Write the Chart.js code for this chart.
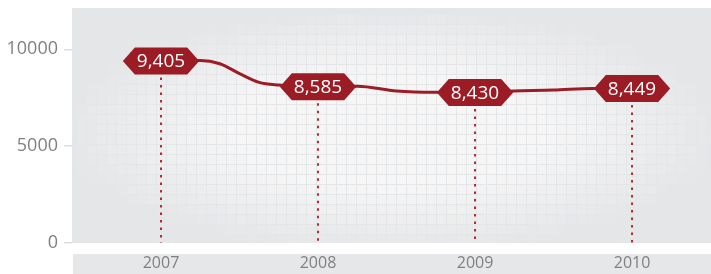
<!DOCTYPE html>
<html>
<head>
<meta charset="utf-8">
<script src="https://cdn.jsdelivr.net/npm/chart.js@4.4.0/dist/chart.umd.min.js"></script>
<style>
  body { margin: 0; background: #fff; }
  #wrap { width: 711px; height: 274px; }
</style>
</head>
<body>
<div id="wrap"><canvas id="chart"></canvas></div>
<script>
// line
const lineYears = [2007, 2007.25, 2007.375, 2007.5, 2007.625, 2007.75, 2007.875, 2008, 2008.25, 2008.5, 2008.75, 2009, 2009.25, 2009.5, 2009.75, 2010];
const lineValues = [9400, 9420, 9250, 8742, 8290, 8150, 8100, 8060, 8093, 7850, 7778, 7773, 7851, 7892, 7979, 7979];

// tagged values shown in the red badges
const labelYears = [2007, 2008, 2009, 2010];
const labelValues = [9405, 8585, 8430, 8449];

const yTicks = [0, 5000, 10000];

const RED = '#9b1c25';

const backgroundPlugin = {
  id: 'bgGrid',
  beforeDraw(chart) {
    const ctx = chart.ctx;
    const a = chart.chartArea;
    ctx.save();
    // plot panel
    ctx.fillStyle = '#e5e6e8';
    ctx.fillRect(a.left, a.top, a.right - a.left, a.bottom - a.top);
    const cx = (a.left + a.right) / 2, cy = (a.top + a.bottom) / 2 + 5;
    const rx = (a.right - a.left) / 2, ry = (a.bottom - a.top) / 2;
    ctx.fillStyle = '#f6f6f7';
    for (let x = a.left + 5; x < a.right; x += 10) {
      for (let y = a.top + 7; y < a.bottom; y += 10) {
        const dx = (x + 4.5 - cx) / rx, dy = (y + 4.5 - cy) / ry;
        const d = Math.sqrt(dx * dx + dy * dy);
        const alpha = Math.max(0, Math.min(1, (1.05 - d) * 1.7));
        if (alpha <= 0) continue;
        ctx.globalAlpha = alpha;
        ctx.fillRect(x, y, Math.min(9, a.right - x), Math.min(9, a.bottom - y));
      }
    }
    ctx.globalAlpha = 1;
    // band behind the year labels
    ctx.fillStyle = '#e6e7e9';
    ctx.fillRect(a.left + 1, a.bottom + 11, a.right - a.left, chart.height - a.bottom - 11);
    ctx.restore();
  }
};

const badgePlugin = {
  id: 'badges',
  afterDatasetsDraw(chart) {
    const ctx = chart.ctx;
    const xs = chart.scales.x, ys = chart.scales.y;
    const a = chart.chartArea;
    ctx.save();
    ctx.font = '19px "Open Sans"';
    labelYears.forEach((yr, i) => {
      const idx = lineYears.indexOf(yr);
      const px = xs.getPixelForValue(yr);
      const py = ys.getPixelForValue(lineValues[idx]);
      const halfH = 13.5;
      // dotted drop line
      ctx.strokeStyle = '#b22a35';
      ctx.lineWidth = 2;
      ctx.setLineDash([2.5, 5]);
      ctx.beginPath();
      ctx.moveTo(px, py + halfH + 3);
      ctx.lineTo(px, a.bottom);
      ctx.stroke();
      ctx.setLineDash([]);
      // hexagon badge
      const text = labelValues[i].toLocaleString('en-US');
      const tw = ctx.measureText(text).width;
      const half = tw / 2 + 2;
      const tip = 12;
      ctx.fillStyle = RED;
      ctx.beginPath();
      ctx.moveTo(px - half - tip, py);
      ctx.lineTo(px - half, py - halfH);
      ctx.lineTo(px + half, py - halfH);
      ctx.lineTo(px + half + tip, py);
      ctx.lineTo(px + half, py + halfH);
      ctx.lineTo(px - half, py + halfH);
      ctx.closePath();
      ctx.fill();
      ctx.fillStyle = '#ffffff';
      ctx.textAlign = 'center';
      ctx.textBaseline = 'middle';
      ctx.fillText(text, px, py + 1);
    });
    ctx.restore();
  }
};

new Chart(document.getElementById('chart'), {
  type: 'line',
  data: {
    datasets: [{
      data: lineYears.map((x, i) => ({ x: x, y: lineValues[i] })),
      borderColor: RED,
      borderWidth: 3,
      pointRadius: 0,
      fill: false,
      cubicInterpolationMode: 'monotone'
    }]
  },
  options: {
    responsive: true,
    maintainAspectRatio: false,
    animation: false,
    layout: { padding: { top: 8, right: 0, left: 0, bottom: 0 } },
    plugins: {
      legend: { display: false },
      tooltip: { enabled: false }
    },
    scales: {
      x: {
        type: 'linear',
        min: 2006.433,
        max: 2010.503,
        afterBuildTicks: scale => { scale.ticks = labelYears.map(v => ({ value: v })); },
        afterFit: scale => {
          scale.height = 31;
          scale.paddingLeft = 0;
          scale.paddingRight = 0;
        },
        grid: { display: false, drawTicks: false },
        border: { display: false },
        ticks: {
          padding: 11,
          color: '#808080',
          font: { family: 'Open Sans', size: 16 },
          callback: v => String(v)
        }
      },
      y: {
        min: 0,
        max: 12130,
        afterBuildTicks: scale => { scale.ticks = yTicks.map(v => ({ value: v })); },
        afterFit: scale => {
          scale.width = 72;
          scale.paddingTop = 0;
          scale.paddingBottom = 0;
        },
        grid: {
          drawOnChartArea: false,
          tickLength: 8,
          color: '#dcdcdc',
          lineWidth: 1.5
        },
        border: { display: false },
        ticks: {
          padding: 6,
          color: '#808080',
          font: { family: 'Open Sans', size: 18 },
          callback: v => String(v)
        }
      }
    }
  },
  plugins: [backgroundPlugin, badgePlugin]
});
</script>
</body>
</html>
